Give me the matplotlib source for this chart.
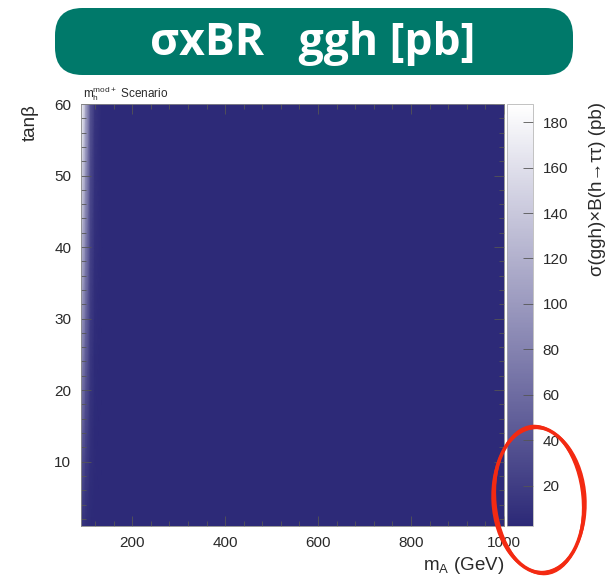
import numpy as np
import matplotlib.pyplot as plt
from matplotlib.colors import LinearSegmentedColormap
from matplotlib.patches import FancyBboxPatch, Ellipse
from matplotlib.ticker import MultipleLocator

plt.rcParams['font.family'] = ['Liberation Sans', 'DejaVu Sans']

# grid nodes of the scan (mA in GeV, tan beta)
mA = [90, 100, 110, 120, 135, 1000]
tanb = [1, 10, 20, 30, 40, 50, 60]

# sigma(ggh) x B(h->tautau) in pb, one row per tan beta node
xsec = [
    [14, 7, 4, 3, 3, 3],
    [40, 20, 8, 4, 3, 3],
    [75, 38, 13, 5, 3, 3],
    [105, 58, 19, 6, 3, 3],
    [130, 76, 25, 8, 3, 3],
    [158, 95, 32, 10, 3, 3],
    [188, 115, 40, 12, 3, 3],
]
zmin, zmax = 2.2, 188
cbar_ticks = [20, 40, 60, 80, 100, 120, 140, 160, 180]

W, H = 610, 582
fig = plt.figure(figsize=(W / 100, H / 100), dpi=100)

def box(x0, y0, x1, y1):
    # pixel box (top-left origin) -> figure fraction rect
    return [x0 / W, 1 - y1 / H, (x1 - x0) / W, (y1 - y0) / H]

cmap = LinearSegmentedColormap.from_list('wb', ['#2c2977', '#ffffff'])
txt = '#2a2a2a'

ax = fig.add_axes(box(81, 104, 504, 526))
X, Y = np.meshgrid(mA, tanb)
mesh = ax.pcolormesh(X, Y, np.array(xsec, dtype=float), cmap=cmap,
                     vmin=zmin, vmax=zmax, shading='gouraud')
ax.set_xlim(90, 1000)
ax.set_ylim(1, 60)
ax.xaxis.set_major_locator(MultipleLocator(200))
ax.xaxis.set_minor_locator(MultipleLocator(40))
ax.yaxis.set_major_locator(MultipleLocator(10))
ax.yaxis.set_minor_locator(MultipleLocator(2))
ax.tick_params(which='both', direction='in', top=True, right=True,
               color='#555555', width=0.6, labelsize=11, labelcolor=txt)
ax.tick_params(which='major', length=7, pad=7)
ax.tick_params(which='minor', length=3.5)
for s in ax.spines.values():
    s.set_color('#888888')
    s.set_linewidth(0.6)

fig.text(504 / W, 1 - 566 / H, r'm$_\mathregular{A}$ (GeV)', ha='right', va='center',
         fontsize=13.5, color=txt)
fig.text(30 / W, 1 - 104 / H, 'tan\u03b2', ha='center', va='top', rotation=90,
         fontsize=13.5, color=txt)
fig.text(83 / W, 1 - 94 / H, r'm$_\mathregular{h}^\mathregular{mod+}$ Scenario',
         ha='left', va='center', fontsize=8.5, color=txt)

cax = fig.add_axes(box(507, 104, 533, 526))
cb = fig.colorbar(mesh, cax=cax, ticks=cbar_ticks)
cb.outline.set_edgecolor('#aaaaaa')
cb.outline.set_linewidth(0.5)
cax.tick_params(direction='in', length=7, width=0.6, color='#555555',
                labelsize=11, labelcolor=txt, pad=7)
fig.text(597 / W, 1 - 102 / H, '\u03c3(ggh)\u00d7B(h\u2192\u03c4\u03c4) (pb)',
         ha='center', va='top', rotation=90, fontsize=13.5, color=txt)

# green title banner
banner = FancyBboxPatch((55 / W, 1 - 75 / H), 518 / W, 67 / H,
                        boxstyle='round,pad=0.0,rounding_size=0.045',
                        transform=fig.transFigure, facecolor='#00796a',
                        edgecolor='none', mutation_aspect=W / H)
fig.patches.append(banner)
fig.text(313 / W, 1 - 43 / H, '\u03c3xBR   ggh [pb]', ha='center', va='center',
         fontsize=32, fontweight='bold', color='white', family='Open Sans')

# hand-drawn red ring around the top of the mA range
for dw, dh, da, lw in [(0, 0, 4, 2.6), (3, -2, 3, 1.6), (-3, 3, 5, 1.4)]:
    ring = Ellipse((539 / W, 1 - 500 / H), (90 + dw) / W, (146 + dh) / H,
                   angle=da, transform=fig.transFigure, fill=False,
                   edgecolor='#f32a12', linewidth=lw)
    fig.patches.append(ring)

fig.savefig('out.png', dpi=100)
